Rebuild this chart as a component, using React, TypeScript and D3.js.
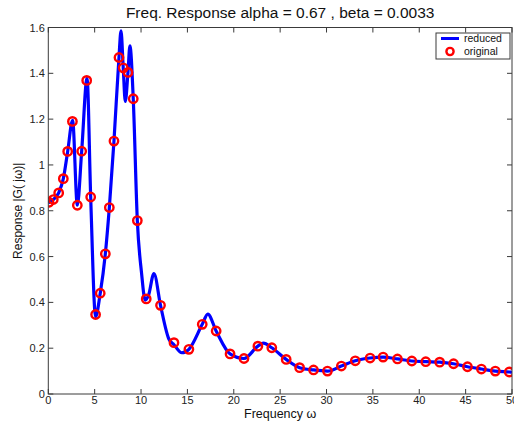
import React from "react";
import * as d3 from "d3";

const origFreq = [0.08, 0.54, 1.12, 1.62, 2.09, 2.6, 3.13, 3.6, 4.14, 4.57, 5.1, 5.6, 6.15, 6.58, 7.08, 7.62, 8.08, 8.59, 9.16, 9.6, 10.56, 12.1, 13.55, 15.16, 16.6, 18.1, 19.6, 21.1, 22.6, 24.1, 25.65, 27.1, 28.6, 30.1, 31.6, 33.1, 34.7, 36.1, 37.65, 39.2, 40.7, 42.2, 43.7, 45.2, 46.7, 48.2, 49.7];
const origMag = [0.837, 0.849, 0.878, 0.94, 1.059, 1.19, 0.824, 1.06, 1.369, 0.86, 0.347, 0.44, 0.612, 0.814, 1.104, 1.469, 1.424, 1.404, 1.289, 0.757, 0.415, 0.387, 0.224, 0.195, 0.304, 0.275, 0.175, 0.155, 0.209, 0.202, 0.151, 0.115, 0.105, 0.1, 0.122, 0.145, 0.157, 0.161, 0.153, 0.144, 0.141, 0.139, 0.132, 0.119, 0.109, 0.1, 0.096];

const redFreq = [0, 0.08, 0.54, 1.12, 1.62, 2.09, 2.62, 3.13, 3.6, 4.18, 4.57, 5.1, 5.6, 6.15, 6.58, 7.08, 7.62, 7.84, 8.08, 8.3, 8.59, 8.8, 9.16, 9.6, 10.05, 10.45, 10.8, 11.39, 12.1, 13.0, 13.55, 14.4, 15.16, 16.6, 17.2, 18.1, 19.6, 21.1, 22.6, 23.2, 24.1, 25.65, 27.1, 28.6, 30.1, 31.6, 33.1, 34.7, 36.1, 37.65, 39.2, 40.7, 42.2, 43.7, 45.2, 46.7, 48.2, 49.7, 50];
const redMag = [0.832, 0.837, 0.849, 0.878, 0.94, 1.059, 1.195, 0.824, 1.06, 1.378, 0.86, 0.338, 0.44, 0.612, 0.814, 1.104, 1.469, 1.585, 1.424, 1.277, 1.404, 1.52, 1.289, 0.757, 0.53, 0.41, 0.43, 0.526, 0.387, 0.24, 0.215, 0.18, 0.195, 0.304, 0.349, 0.275, 0.175, 0.155, 0.209, 0.222, 0.202, 0.151, 0.115, 0.105, 0.1, 0.122, 0.145, 0.157, 0.161, 0.153, 0.144, 0.141, 0.139, 0.132, 0.119, 0.109, 0.1, 0.096, 0.095];

const xTicks = [0, 5, 10, 15, 20, 25, 30, 35, 40, 45, 50];
const yTicks = [0, 0.2, 0.4, 0.6, 0.8, 1, 1.2, 1.4, 1.6];

const titleText = "Freq. Response alpha = 0.67 , beta = 0.0033";
const xLabel = "Frequency  ω";
const yLabel = "Response |G( jω)|";
const legendLabels = ["reduced", "original"];

export default function App() {
  const W = 514, H = 421;
  const left = 48.3, right = 512, top = 27.5, bottom = 394;
  const x = d3.scaleLinear().domain([0, 50]).range([left, right]);
  const y = d3.scaleLinear().domain([0, 1.6]).range([bottom, top]);
  const pts: [number, number][] = redFreq.map((f, i) => [f, redMag[i]]);
  const line = d3.line<[number, number]>().x(d => x(d[0])).y(d => y(d[1])).curve(d3.curveMonotoneX);
  const axisColor = "#3a3a3a";
  const font = "'Liberation Sans', Arial, sans-serif";
  const tl = 5;
  return (
    <svg width={W} height={H} style={{ position: "absolute", left: 0, top: 0, background: "#fff" }} fontFamily={font}>
      <rect x={0} y={0} width={W} height={H} fill="#fff" />
      <text x={(left + right) / 2} y={17.5} textAnchor="middle" fontSize={15.5} fill="#111">{titleText}</text>
      <defs>
        <clipPath id="plotclip">
          <rect x={left} y={top} width={right - left} height={bottom - top} />
        </clipPath>
      </defs>
      <g clipPath="url(#plotclip)">
        <path d={line(pts) || ""} fill="none" stroke="#0000ff" strokeWidth={3.2} strokeLinejoin="round" />
        {origFreq.map((f, i) => (
          <circle key={i} cx={x(f)} cy={y(origMag[i])} r={4.2} fill="none" stroke="#ff0000" strokeWidth={2.4} />
        ))}
      </g>
      <rect x={left} y={top} width={right - left} height={bottom - top} fill="none" stroke={axisColor} strokeWidth={1} />
      {xTicks.map(t => (
        <g key={"x" + t}>
          <line x1={x(t)} x2={x(t)} y1={bottom} y2={bottom - tl} stroke={axisColor} />
          <line x1={x(t)} x2={x(t)} y1={top} y2={top + tl} stroke={axisColor} />
          <text x={x(t)} y={bottom + 9.5} textAnchor="middle" fontSize={11} fill="#222">{t}</text>
        </g>
      ))}
      {yTicks.map(t => (
        <g key={"y" + t}>
          <line x1={left} x2={left + tl} y1={y(t)} y2={y(t)} stroke={axisColor} />
          <line x1={right} x2={right - tl} y1={y(t)} y2={y(t)} stroke={axisColor} />
          <text x={left - 3.5} y={y(t) + 4} textAnchor="end" fontSize={11} fill="#222">{String(t)}</text>
        </g>
      ))}
      <text x={(left + right) / 2} y={418} textAnchor="middle" fontSize={12.5} fill="#111">{xLabel}</text>
      <text transform={`translate(22,${(top + bottom) / 2}) rotate(-90)`} textAnchor="middle" fontSize={12} fill="#111">{yLabel}</text>
      <g>
        <rect x={436} y={33} width={74} height={26} fill="#fff" stroke={axisColor} strokeWidth={1} />
        <line x1={441} x2={459} y1={38.5} y2={38.5} stroke="#0000ff" strokeWidth={3} />
        <circle cx={450} cy={51.5} r={3.6} fill="none" stroke="#ff0000" strokeWidth={2.4} />
        <text x={464} y={42} fontSize={10.5} fill="#111">{legendLabels[0]}</text>
        <text x={464} y={55} fontSize={10.5} fill="#111">{legendLabels[1]}</text>
      </g>
    </svg>
  );
}
